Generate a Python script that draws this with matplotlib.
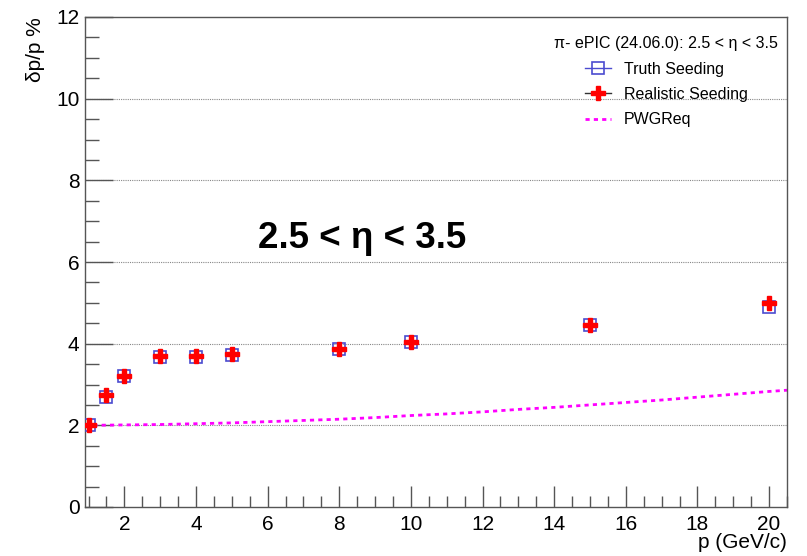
import matplotlib
matplotlib.use("Agg")
import matplotlib.pyplot as plt
from matplotlib.ticker import MultipleLocator
from matplotlib.lines import Line2D

plt.rcParams['font.family'] = ['Liberation Sans', 'DejaVu Sans']

p_vals = [1, 1.5, 2, 3, 4, 5, 8, 10, 15, 20]
truth = [2.0, 2.70, 3.20, 3.68, 3.68, 3.73, 3.87, 4.05, 4.45, 4.90]
realistic = [2.0, 2.75, 3.20, 3.70, 3.70, 3.75, 3.88, 4.05, 4.45, 5.00]

pwg_p = [0.9, 1, 2, 3, 4, 5, 6, 7, 8, 9, 10, 11, 12, 13, 14, 15, 16, 17, 18, 19, 20, 20.5]
pwg_req = [2.00, 2.00, 2.01, 2.02, 2.04, 2.06, 2.09, 2.12, 2.15, 2.19, 2.24,
           2.28, 2.33, 2.39, 2.44, 2.50, 2.56, 2.62, 2.69, 2.76, 2.83, 2.86]

truth_color = '#4b4bd0'
pwg_color = '#ff00ff'

fig = plt.figure(figsize=(8.07, 5.56), dpi=100)
ax = fig.add_axes([85/807, 1-507/556, (787-85)/807, (507-17)/556])

ax.set_xlim(0.9, 20.5)
ax.set_ylim(0, 12)

for y in [2, 4, 6, 8, 10]:
    ax.axhline(y, color='#888888', lw=0.8, ls=(0, (1, 1)), zorder=0)

ax.plot(pwg_p, pwg_req, color=pwg_color, lw=2, ls=(0, (1.5, 1.5)), zorder=2)
ax.plot(p_vals, truth, ls='none', marker='s', ms=8.5, mfc='none', mec=truth_color, mew=1.2,
        zorder=3)
ax.plot(p_vals, realistic, ls='none', marker='P', ms=9.5, color='red', mec='red',
        zorder=4)

ax.xaxis.set_major_locator(MultipleLocator(2))
ax.xaxis.set_minor_locator(MultipleLocator(0.5))
ax.yaxis.set_major_locator(MultipleLocator(2))
ax.yaxis.set_minor_locator(MultipleLocator(0.5))
ax.tick_params(which='both', direction='in', top=False, right=False, labelsize=15, color='#555555')
ax.tick_params(axis='x', which='major', length=15, width=1, pad=6)
ax.tick_params(axis='x', which='minor', length=8, width=1)
ax.tick_params(axis='y', which='major', length=20, width=1, pad=4)
ax.tick_params(axis='y', which='minor', length=10, width=1)
for s in ax.spines.values():
    s.set_color('#555555')
    s.set_linewidth(1)

ax.set_ylabel('δp/p %', fontsize=15, loc='top', labelpad=8)
ax.set_xlabel('p (GeV/c)', fontsize=15, loc='right', labelpad=-1)

ax.text(8.65, 6.58, '2.5 < η < 3.5', fontsize=26.5, fontweight='bold', ha='center', va='center')

handles = [
    Line2D([], [], color=truth_color, lw=1, marker='s', ms=8.5, mfc='none', mec=truth_color, mew=1.2),
    Line2D([], [], color='#333333', lw=1, marker='P', ms=9.5, mfc='red', mec='red'),
    Line2D([], [], color=pwg_color, lw=2, ls=(0, (1.5, 1.5))),
]
labels = ['Truth Seeding', 'Realistic Seeding', 'PWGReq']
leg = ax.legend(handles, labels,
                title='π- ePIC (24.06.0): 2.5 < η < 3.5', title_fontsize=11.5,
                fontsize=11.5, frameon=False, loc='upper right',
                bbox_to_anchor=(1.008, 0.99), handlelength=1.6, labelspacing=0.65,
                handletextpad=0.8)

fig.savefig('out.png', dpi=100)
